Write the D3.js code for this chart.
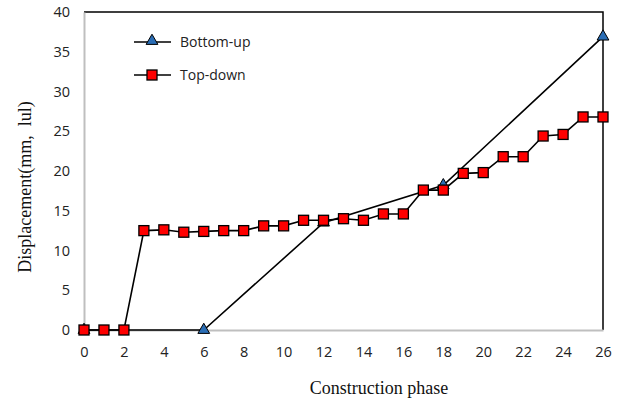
<!DOCTYPE html>
<html>
<head>
<meta charset="utf-8">
<script src="https://cdn.jsdelivr.net/npm/d3@7"></script>
<style>
  html, body { margin: 0; padding: 0; background: #fff; }
  svg { display: block; }
</style>
</head>
<body>
<svg id="chart" width="626" height="403"></svg>
<script>
// Construction phases and lateral displacement for the two excavation methods
const bottomUpPhase = [0, 6, 12, 18, 26];
const bottomUpDisp = [0, 0, 13.5, 18.2, 36.9];

const topDownPhase = [0, 1, 2, 3, 4, 5, 6, 7, 8, 9, 10, 11, 12, 13, 14, 15, 16, 17, 18, 19, 20, 21, 22, 23, 24, 25, 26];
const topDownDisp = [0, 0, 0, 12.5, 12.6, 12.3, 12.4, 12.5, 12.5, 13.1, 13.1, 13.8, 13.8, 14.0, 13.8, 14.6, 14.6, 17.6, 17.6, 19.7, 19.8, 21.8, 21.8, 24.4, 24.6, 26.8, 26.8];

const xTicks = [0, 2, 4, 6, 8, 10, 12, 14, 16, 18, 20, 22, 24, 26];
const yTicks = [0, 5, 10, 15, 20, 25, 30, 35, 40];

const seriesNames = ["Bottom-up", "Top-down"];

const svg = d3.select("#chart");
const plotLeft = 84, plotRight = 603, plotTop = 12, plotBottom = 330;

const x = d3.scaleLinear().domain([0, 26]).range([plotLeft, plotRight]);
const y = d3.scaleLinear().domain([0, 40]).range([plotBottom, plotTop]);

const sansFont = "'Open Sans', 'Noto Sans', sans-serif";
const serifFont = "'Liberation Serif', 'DejaVu Serif', serif";

// Plot frame: dark top/right edges, light grey axis lines
svg.append("path")
  .attr("d", `M${plotLeft},${plotTop}H${plotRight}V${plotBottom}`)
  .attr("fill", "none").attr("stroke", "#000").attr("stroke-width", 1.5);

const xAxis = svg.append("g")
  .attr("transform", `translate(0,${plotBottom})`)
  .call(d3.axisBottom(x).tickValues(xTicks).tickSize(0).tickPadding(17).tickFormat(d3.format("d")));
xAxis.select(".domain").attr("stroke", "#bfbfbf").attr("stroke-width", 2);
xAxis.selectAll("text").attr("font-family", sansFont).attr("font-size", 14.5).attr("fill", "#222");

const yAxis = svg.append("g")
  .attr("transform", `translate(${plotLeft},0)`)
  .call(d3.axisLeft(y).tickValues(yTicks).tickSize(0).tickPadding(14).tickFormat(d3.format("d")));
yAxis.select(".domain").attr("stroke", "#bfbfbf").attr("stroke-width", 2);
yAxis.selectAll("text").attr("font-family", sansFont).attr("font-size", 14.5).attr("fill", "#222");

// Axis titles
svg.append("text")
  .attr("x", 379).attr("y", 394)
  .attr("text-anchor", "middle")
  .attr("font-family", serifFont).attr("font-size", 18).attr("fill", "#111")
  .text("Construction phase");

svg.append("text")
  .attr("transform", "translate(31,187) rotate(-90)")
  .attr("text-anchor", "middle")
  .style("white-space", "pre")
  .attr("font-family", serifFont).attr("font-size", 18).attr("fill", "#111")
  .text("Displacement(mm,  lul)");

const line = d3.line().x(d => x(d[0])).y(d => y(d[1]));

const bottomUp = bottomUpPhase.map((p, i) => [p, bottomUpDisp[i]]);
const topDown = topDownPhase.map((p, i) => [p, topDownDisp[i]]);

const triangle = d3.symbol().type(d3.symbolTriangle).size(60);

// Bottom-up series
svg.append("path").datum(bottomUp)
  .attr("d", line).attr("fill", "none").attr("stroke", "#000").attr("stroke-width", 1.6);

// Top-down series
svg.append("path").datum(topDown)
  .attr("d", line).attr("fill", "none").attr("stroke", "#000").attr("stroke-width", 1.6);

svg.append("g").selectAll("path").data(bottomUp).join("path")
  .attr("transform", d => `translate(${x(d[0])},${y(d[1])})`)
  .attr("d", triangle)
  .attr("fill", "#2a6db5").attr("stroke", "#000").attr("stroke-width", 1);

svg.append("g").selectAll("rect").data(topDown).join("rect")
  .attr("x", d => x(d[0]) - 5).attr("y", d => y(d[1]) - 5)
  .attr("width", 10).attr("height", 10)
  .attr("fill", "#ff0000").attr("stroke", "#000").attr("stroke-width", 1.3);

// Legend
const legendRows = [{ name: seriesNames[0], cy: 42 }, { name: seriesNames[1], cy: 75 }];
const legend = svg.append("g");
legendRows.forEach((r, i) => {
  legend.append("line")
    .attr("x1", 134).attr("x2", 171).attr("y1", r.cy).attr("y2", r.cy)
    .attr("stroke", "#000").attr("stroke-width", 1.6);
  if (i === 0) {
    legend.append("path")
      .attr("transform", `translate(152,${r.cy - 1})`)
      .attr("d", triangle)
      .attr("fill", "#2a6db5").attr("stroke", "#000").attr("stroke-width", 1);
  } else {
    legend.append("rect")
      .attr("x", 147).attr("y", r.cy - 5).attr("width", 10).attr("height", 10)
      .attr("fill", "#ff0000").attr("stroke", "#000").attr("stroke-width", 1.3);
  }
  legend.append("text")
    .attr("x", 180).attr("y", r.cy + 5)
    .attr("font-family", sansFont).attr("font-size", 14).attr("fill", "#222")
    .text(r.name);
});
</script>
</body>
</html>
